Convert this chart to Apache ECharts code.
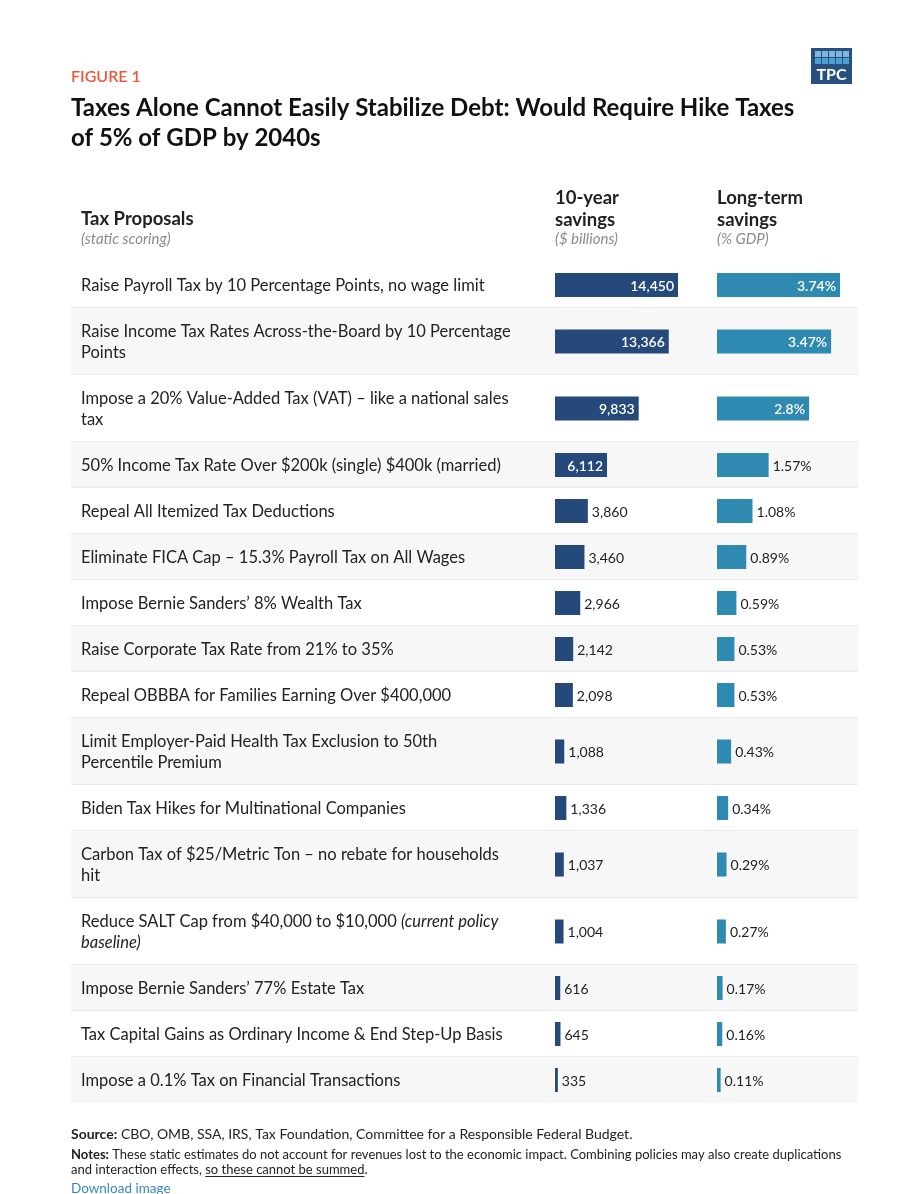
<!DOCTYPE html>
<html>
<head>
<meta charset="utf-8">
<script src="https://cdn.jsdelivr.net/npm/echarts@6/dist/echarts.min.js"></script>
<style>
  html, body { margin: 0; padding: 0; background: #fff; }
  #chart { width: 905px; height: 1194px; }
</style>
</head>
<body>
<div id="chart"></div>
<script>
// rows of the table, "\n" marks where the label wraps
const proposals = [
  'Raise Payroll Tax by 10 Percentage Points, no wage limit',
  'Raise Income Tax Rates Across-the-Board by 10 Percentage\nPoints',
  'Impose a 20% Value-Added Tax (VAT) \u2013 like a national sales\ntax',
  '50% Income Tax Rate Over $200k (single) $400k (married)',
  'Repeal All Itemized Tax Deductions',
  'Eliminate FICA Cap \u2013 15.3% Payroll Tax on All Wages',
  'Impose Bernie Sanders\u2019 8% Wealth Tax',
  'Raise Corporate Tax Rate from 21% to 35%',
  'Repeal OBBBA for Families Earning Over $400,000',
  'Limit Employer-Paid Health Tax Exclusion to 50th\nPercentile Premium',
  'Biden Tax Hikes for Multinational Companies',
  'Carbon Tax of $25/Metric Ton \u2013 no rebate for households\nhit',
  'Reduce SALT Cap from $40,000 to $10,000 {i|(current policy}\n{i|baseline)}',
  'Impose Bernie Sanders\u2019 77% Estate Tax',
  'Tax Capital Gains as Ordinary Income & End Step-Up Basis',
  'Impose a 0.1% Tax on Financial Transactions'
]
// 10-year savings, $ billions
const tenYear = [14450, 13366, 9833, 6112, 3860, 3460, 2966, 2142, 2098, 1088, 1336, 1037, 1004, 616, 645, 335]
// long-term savings, % of GDP
const longTerm = [3.74, 3.47, 2.8, 1.57, 1.08, 0.89, 0.59, 0.53, 0.53, 0.43, 0.34, 0.29, 0.27, 0.17, 0.16, 0.11]

const chart = echarts.init(document.getElementById('chart'))

// row layout: single-line rows are 46px, wrapped rows 67px
const rowTop = []
const rowBottom = []
let acc = 0
proposals.forEach(p => {
  const h = p.split('\n').length > 1 ? 67 : 46
  rowTop.push(acc)
  acc += h
  rowBottom.push(acc)
})
const tableH = acc
const TABLE_TOP = 262

const FONT = 'Lato, "Open Sans", sans-serif'
const DARK = '#24497a'
const LIGHT = '#2f8ab1'

const rowData = proposals.map((p, i) => [rowTop[i], rowBottom[i], i])
const tenData = tenYear.map((v, i) => [v, (rowTop[i] + rowBottom[i]) / 2, i])
const longData = longTerm.map((v, i) => [v, (rowTop[i] + rowBottom[i]) / 2, i])

function barItem(color, fmt, insideMin) {
  return function(params, api) {
    const v = api.value(0)
    const yc = api.value(1)
    const p0 = api.coord([0, yc])
    const p1 = api.coord([v, yc])
    const w = Math.max(p1[0] - p0[0], 2)
    const inside = v >= insideMin
    return {
      type: 'group',
      children: [
        { type: 'rect', shape: { x: p0[0], y: p0[1] - 12, width: w, height: 24 }, style: { fill: color } },
        {
          type: 'text',
          x: inside ? p0[0] + w - 4 : p0[0] + w + 4,
          y: p0[1] + 1,
          style: {
            text: fmt(v),
            fill: inside ? '#fff' : '#222',
            font: (inside ? '600 ' : '400 ') + '14px ' + FONT,
            align: inside ? 'right' : 'left',
            verticalAlign: 'middle'
          }
        }
      ]
    }
  }
}

const logoCells = []
for (let r = 0; r < 2; r++) {
  for (let c = 0; c < 5; c++) {
    logoCells.push({
      type: 'rect',
      shape: { x: 815 + c * 7, y: 51 + r * 7, width: 6, height: 6 },
      style: { fill: r === 0 ? '#7fb6e0' : '#4d9fd3' }
    })
  }
}

// underline position for the notes' last phrase
const ctx = document.createElement('canvas').getContext('2d')
ctx.font = '400 13px Lato'
const ulStart = 71 + ctx.measureText('and interaction effects, ').width
const ulEnd = ulStart + ctx.measureText('so these cannot be summed').width

chart.setOption({
  animation: false,
  backgroundColor: '#fff',
  grid: [
    { left: 555, width: 123, top: TABLE_TOP, height: tableH },
    { left: 717, width: 123, top: TABLE_TOP, height: tableH },
    { left: 71, right: 47, top: TABLE_TOP, height: tableH }
  ],
  xAxis: [
    { gridIndex: 0, type: 'value', min: 0, max: 14450, show: false },
    { gridIndex: 1, type: 'value', min: 0, max: 3.74, show: false },
    { gridIndex: 2, type: 'value', min: 0, max: 1, show: false }
  ],
  yAxis: [0, 1, 2].map(g => ({ gridIndex: g, type: 'value', min: 0, max: tableH, inverse: true, show: false })),
  series: [
    {
      type: 'custom',
      xAxisIndex: 2,
      yAxisIndex: 2,
      z: 1,
      data: rowData,
      renderItem(params, api) {
        const i = api.value(2)
        const a = api.coord([0, api.value(0)])
        const b = api.coord([1, api.value(1)])
        const children = [
          { type: 'rect', shape: { x: a[0], y: a[1], width: b[0] - a[0], height: b[1] - a[1] },
            style: { fill: i % 2 === 1 ? '#f7f7f7' : '#fff' } },
          {
            type: 'text',
            x: a[0] + 10,
            y: (a[1] + b[1]) / 2 + 1,
            style: {
              text: proposals[i],
              fill: '#222',
              font: '400 16.5px ' + FONT,
              lineHeight: 21,
              verticalAlign: 'middle',
              rich: { i: { fontStyle: 'italic', fontSize: 16.5, fontFamily: FONT, lineHeight: 21, fill: '#222' } }
            }
          }
        ]
        if (i < proposals.length - 1) {
          children.push({ type: 'line', shape: { x1: a[0], y1: b[1], x2: b[0], y2: b[1] },
            style: { stroke: '#e4e4e4', lineWidth: 1.5 } })
        }
        return { type: 'group', children }
      }
    },
    {
      type: 'custom',
      xAxisIndex: 0,
      yAxisIndex: 0,
      z: 3,
      data: tenData,
      renderItem: barItem(DARK, v => v.toLocaleString('en-US'), 5000)
    },
    {
      type: 'custom',
      xAxisIndex: 1,
      yAxisIndex: 1,
      z: 3,
      data: longData,
      renderItem: barItem(LIGHT, v => v + '%', 2)
    }
  ],
  graphic: [
    { type: 'text', left: 71, top: 69, style: { text: 'FIGURE 1', fill: '#e8583b', font: '600 16px ' + FONT } },
    { type: 'text', left: 71, top: 93, style: { text: 'Taxes Alone Cannot Easily Stabilize Debt: Would Require Hike Taxes\nof 5% of GDP by 2040s',
      fill: '#111', font: '700 24px ' + FONT, lineHeight: 30 } },
    // logo
    { type: 'rect', shape: { x: 811, y: 48, width: 41, height: 36 }, style: { fill: '#27507f' } },
    ...logoCells,
    { type: 'text', x: 831.5, y: 74.5, style: { text: 'TPC', fill: '#fff', font: '700 16px ' + FONT, align: 'center', verticalAlign: 'middle' } },
    // column headers
    { type: 'text', left: 81, top: 210, style: { text: 'Tax Proposals', fill: '#222', font: '700 18.5px ' + FONT } },
    { type: 'text', left: 81, top: 232, style: { text: '(static scoring)', fill: '#8a8a8a', font: 'italic 400 15px ' + FONT } },
    { type: 'text', left: 555, top: 187, style: { text: '10-year\nsavings', fill: '#222', font: '700 18.5px ' + FONT, lineHeight: 22 } },
    { type: 'text', left: 555, top: 232, style: { text: '($ billions)', fill: '#8a8a8a', font: 'italic 400 15px ' + FONT } },
    { type: 'text', left: 717, top: 187, style: { text: 'Long-term\nsavings', fill: '#222', font: '700 18.5px ' + FONT, lineHeight: 22 } },
    { type: 'text', left: 717, top: 232, style: { text: '(% GDP)', fill: '#8a8a8a', font: 'italic 400 15px ' + FONT } },
    // footer
    { type: 'text', left: 71, top: 1127, style: {
      text: '{b|Source:} CBO, OMB, SSA, IRS, Tax Foundation, Committee for a Responsible Federal Budget.',
      fill: '#222', font: '400 14px ' + FONT,
      rich: { b: { fontWeight: 700, fontSize: 14, fontFamily: FONT, fill: '#222' } } } },
    { type: 'text', left: 71, top: 1147, style: {
      text: '{b|Notes:} These static estimates do not account for revenues lost to the economic impact. Combining policies may also create duplications\nand interaction effects, so these cannot be summed.',
      fill: '#222', font: '400 13px ' + FONT, lineHeight: 15,
      rich: { b: { fontWeight: 700, fontSize: 13, fontFamily: FONT, fill: '#222', lineHeight: 15 } } } },
    { type: 'line', shape: { x1: ulStart, y1: 1176.5, x2: ulEnd, y2: 1176.5 }, style: { stroke: '#222', lineWidth: 1 } },
    { type: 'text', left: 71, top: 1182, style: { text: 'Download image', fill: '#3a86c8', font: '400 13.5px ' + FONT } }
  ]
})
</script>
</body>
</html>
